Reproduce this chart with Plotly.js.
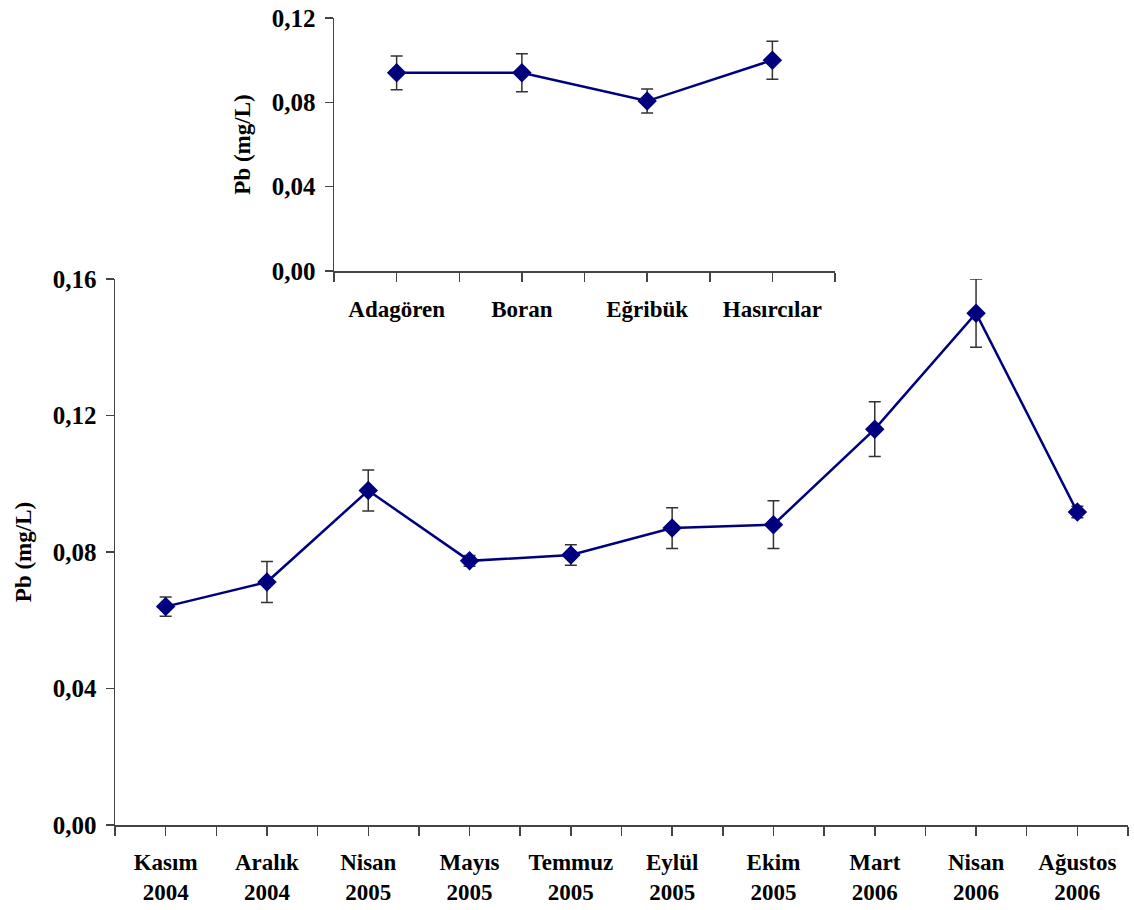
<!DOCTYPE html>
<html>
<head>
<meta charset="utf-8">
<script src="https://cdn.plot.ly/plotly-3.0.1.min.js"></script>
<style>html,body{margin:0;padding:0;background:#fff;}#chart{width:1134px;height:910px;}</style>
</head>
<body>
<div id="chart"></div>
<script>
// Main chart data (monthly)
const months = ["Kasım<br>2004", "Aralık<br>2004", "Nisan<br>2005", "Mayıs<br>2005", "Temmuz<br>2005",
                "Eylül<br>2005", "Ekim<br>2005", "Mart<br>2006", "Nisan<br>2006", "Ağustos<br>2006"];
const monthPb = [0.064, 0.0712, 0.098, 0.0774, 0.0791, 0.087, 0.088, 0.116, 0.150, 0.0917];
const monthErr = [0.0028, 0.006, 0.006, 0.0016, 0.003, 0.006, 0.007, 0.008, 0.010, 0.0017];

// Inset data (stations)
const stations = ["Adagören", "Boran", "Eğribük", "Hasırcılar"];
const stationPb = [0.094, 0.094, 0.0806, 0.100];
const stationErr = [0.008, 0.009, 0.0057, 0.009];

const mainTicks = [0, 0.04, 0.08, 0.12, 0.16];
const insetTicks = [0, 0.04, 0.08, 0.12];

const monthIdx = months.map((_, i) => i);
const stationIdx = stations.map((_, i) => i);

const navy = "#00007f";
const fnt = {family: "Liberation Serif, Times New Roman, serif", size: 23, color: "#000", weight: "bold"};
const yFnt = {family: "Liberation Serif, Times New Roman, serif", size: 25, color: "#000", weight: "bold"};
const titleFnt = {family: "Liberation Serif, Times New Roman, serif", size: 23, color: "#000", weight: "bold"};
const axisCol = "#444";

const traceStyle = {
  type: "scatter", mode: "lines+markers",
  line: {color: navy, width: 2.5},
  marker: {symbol: "diamond", size: 15, color: navy},
  showlegend: false, hoverinfo: "skip"
};

const traces = [
  Object.assign({}, traceStyle, {
    x: monthIdx, y: monthPb, xaxis: "x", yaxis: "y",
    error_y: {type: "data", array: monthErr, visible: true, color: "#333", thickness: 1.5, width: 6}
  }),
  Object.assign({}, traceStyle, {
    x: stationIdx, y: stationPb, xaxis: "x2", yaxis: "y2",
    error_y: {type: "data", array: stationErr, visible: true, color: "#333", thickness: 1.5, width: 6}
  })
];

const W = 1134, H = 910;
function xd(a, b) { return [a / W, b / W]; }
function yd(top, bottom) { return [1 - bottom / H, 1 - top / H]; }

const xCommon = {
  type: "linear", showgrid: false, zeroline: false, showline: true,
  linecolor: axisCol, linewidth: 1.5, ticks: "outside", ticklen: 9, tickwidth: 1.5, tickcolor: axisCol,
  tickfont: fnt, fixedrange: true
};
const yCommon = {
  type: "linear", showgrid: false, zeroline: false, showline: true,
  linecolor: axisCol, linewidth: 1.5, ticks: "outside", ticklen: 8, tickwidth: 1.5, tickcolor: axisCol,
  tickfont: yFnt, tickformat: ".2f", fixedrange: true, ticklabelstandoff: 4
};

const layout = {
  width: W, height: H,
  margin: {l: 0, r: 0, t: 0, b: 0},
  paper_bgcolor: "#fff", plot_bgcolor: "rgba(0,0,0,0)",
  separators: ",.",
  font: fnt,
  showlegend: false,
  xaxis: Object.assign({}, xCommon, {
    domain: xd(115, 1128), anchor: "y", range: [-0.5, months.length - 0.5],
    tickmode: "array", tickvals: monthIdx, ticktext: months, ticklabelstandoff: 7,
    minor: {tickmode: "linear", tick0: -0.5, dtick: 1, ticks: "outside", ticklen: 9, tickwidth: 1.5, tickcolor: axisCol, showgrid: false}
  }),
  yaxis: Object.assign({}, yCommon, {
    domain: yd(279, 825), anchor: "x", range: [0, 0.16],
    tickmode: "array", tickvals: mainTicks,
    title: {text: "Pb (mg/L)", font: titleFnt, standoff: 14}
  }),
  xaxis3: {
    overlaying: "x", anchor: "y", type: "linear", range: [-0.5, months.length - 0.5],
    tickmode: "array", tickvals: monthIdx, ticks: "inside", ticklen: 9, tickwidth: 1.5, tickcolor: axisCol,
    showticklabels: false, showline: false, showgrid: false, zeroline: false, fixedrange: true
  },
  xaxis2: Object.assign({}, xCommon, {
    domain: xd(334, 835), anchor: "y2", range: [-0.5, stations.length - 0.5],
    tickmode: "array", tickvals: stationIdx, ticktext: stations, ticklabelstandoff: 8,
    minor: {tickmode: "linear", tick0: -0.5, dtick: 1, ticks: "outside", ticklen: 9, tickwidth: 1.5, tickcolor: axisCol, showgrid: false}
  }),
  yaxis2: Object.assign({}, yCommon, {
    domain: yd(18, 271), anchor: "x2", range: [0, 0.12],
    tickmode: "array", tickvals: insetTicks,
    title: {text: "Pb (mg/L)", font: titleFnt, standoff: 14}
  }),
  xaxis4: {
    overlaying: "x2", anchor: "y2", type: "linear", range: [-0.5, stations.length - 0.5],
    tickmode: "array", tickvals: stationIdx, ticks: "inside", ticklen: 9, tickwidth: 1.5, tickcolor: axisCol,
    showticklabels: false, showline: false, showgrid: false, zeroline: false, fixedrange: true
  }
};

Plotly.newPlot("chart", traces, layout, {displayModeBar: false, staticPlot: true});
</script>
</body>
</html>
